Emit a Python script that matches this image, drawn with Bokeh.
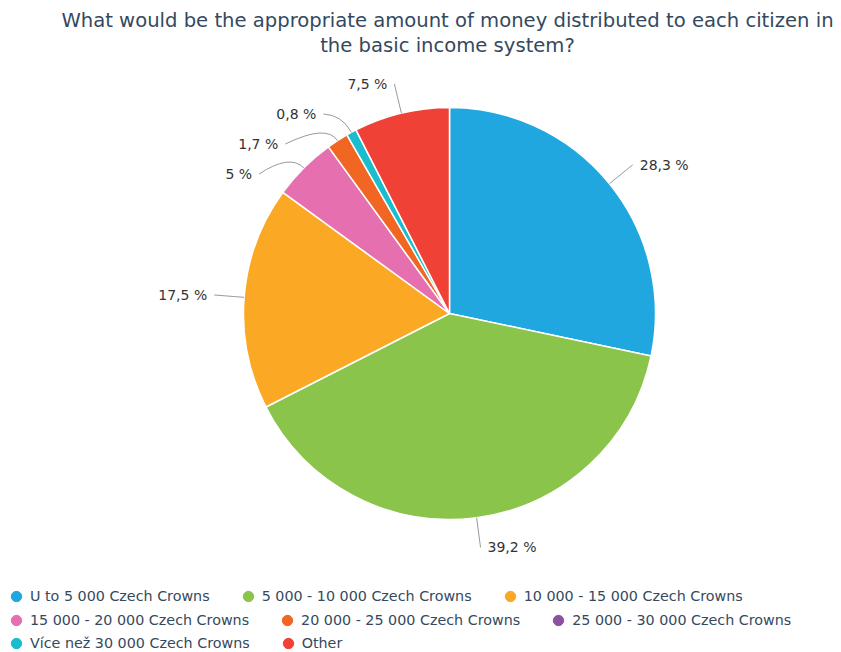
import math
from bokeh.plotting import figure
from bokeh.models import Range1d, Legend, LegendItem, ColumnDataSource
from bokeh.core.properties import value
from bokeh.embed import file_html
from bokeh.resources import INLINE

# ---- data ----
categories = [
    "U to 5 000 Czech Crowns",
    "5 000 - 10 000 Czech Crowns",
    "10 000 - 15 000 Czech Crowns",
    "15 000 - 20 000 Czech Crowns",
    "20 000 - 25 000 Czech Crowns",
    "25 000 - 30 000 Czech Crowns",
    "Více než 30 000 Czech Crowns",
    "Other",
]
shares = [28.3, 39.2, 17.5, 5.0, 1.7, 0.0, 0.8, 7.5]
colors = ["#20a7e0", "#8ac44a", "#fba825", "#e66fb0", "#f26624", "#8d4f9f", "#1abccd", "#ef4136"]
title_lines = ["What would be the appropriate amount of money distributed to each citizen in",
               "the basic income system?"]
legend_rows = [[0, 1, 2], [3, 4, 5], [6, 7]]

# ---- layout ----
W, H = 841, 652
CX, CY_S = 449, 313          # pie centre in screen px
R = 206                      # pie radius
LAB_R = R + 30               # label radius
FONT = "DejaVu Sans"

def ydat(ys):
    return H - ys

p = figure(width=W, height=H, x_range=Range1d(0, W), y_range=Range1d(0, H),
           output_backend="svg", toolbar_location=None,
           x_axis_location=None, y_axis_location=None, min_border=0,
           outline_line_color=None)
p.grid.visible = False

total = sum(shares)
cum = 0.0
wx = dict(start=[], end=[], color=[])
slices = []
for v, c in zip(shares, colors):
    a = cum / total
    cum += v
    b = cum / total
    if v > 0:
        wx["start"].append(math.pi / 2 - 2 * math.pi * a)
        wx["end"].append(math.pi / 2 - 2 * math.pi * b)
        wx["color"].append(c)
        slices.append((v, 2 * math.pi * (a + b) / 2))

p.wedge(x=CX, y=ydat(CY_S), radius=R, start_angle="start", end_angle="end",
        direction="clock", fill_color="color", line_color="white", line_width=1.5,
        source=ColumnDataSource(wx))

# ---- labels with connectors ----
def fmt(v):
    return ("%g" % v).replace(".", ",") + " %"

items = []
for v, th in slices:
    side = 1 if math.sin(th) >= 0 else -1
    ys = CY_S - LAB_R * math.cos(th)
    items.append(dict(v=v, th=th, side=side, ys=ys))
for side in (1, -1):
    grp = sorted([it for it in items if it["side"] == side], key=lambda d: d["ys"])
    prev = None
    for it in grp:
        if prev is not None and it["ys"] < prev + 30:
            it["ys"] = prev + 30
        prev = it["ys"]

q = dict(x0=[], y0=[], x1=[], y1=[], cx=[], cy=[])
tl = dict(x=[], y=[], t=[], align=[])
for it in items:
    th, side = it["th"], it["side"]
    dy = it["ys"] - CY_S
    xe = CX + side * math.sqrt(max(LAB_R ** 2 - dy ** 2, 0))
    q["x0"].append(CX + R * math.sin(th)); q["y0"].append(ydat(CY_S - R * math.cos(th)))
    q["cx"].append(CX + (R + 20) * math.sin(th)); q["cy"].append(ydat(CY_S - (R + 20) * math.cos(th)))
    q["x1"].append(xe); q["y1"].append(ydat(it["ys"]))
    tl["x"].append(xe + side * 7); tl["y"].append(ydat(it["ys"]))
    tl["t"].append(fmt(it["v"])); tl["align"].append("left" if side > 0 else "right")

p.quadratic(x0="x0", y0="y0", x1="x1", y1="y1", cx="cx", cy="cy",
            line_color="#999999", line_width=1, source=ColumnDataSource(q))
p.text(x="x", y="y", text="t", text_align="align", text_baseline="middle",
       text_font=value(FONT), text_font_size="14px", text_color="#333333",
       source=ColumnDataSource(tl))

# ---- title ----
for i, line in enumerate(title_lines):
    p.text(x=[CX - 2], y=[ydat(20 + 25 * i)], text=[line], text_align="center",
           text_baseline="middle", text_font=value(FONT), text_font_size="19.6px",
           text_color="#34495e")

# ---- legend (dummy renderers placed outside the visible range) ----
dummies = [p.scatter(x=[-1000], y=[-1000], marker="circle", size=10, fill_color=c, line_color=c)
           for c in colors]
row_y = [596, 620, 643]
for row, ys in zip(legend_rows, row_y):
    lg = Legend(items=[LegendItem(label=categories[i], renderers=[dummies[i]]) for i in row],
                orientation="horizontal", location=(3, ydat(ys) - 13),
                glyph_width=26, glyph_height=26, label_standoff=1, spacing=25,
                padding=0, margin=0, background_fill_alpha=0, border_line_alpha=0,
                label_text_font=FONT, label_text_font_size="14.3px",
                label_text_color="#34495e")
    p.add_layout(lg, "center")

open("out.html", "w").write(file_html(p, INLINE))
